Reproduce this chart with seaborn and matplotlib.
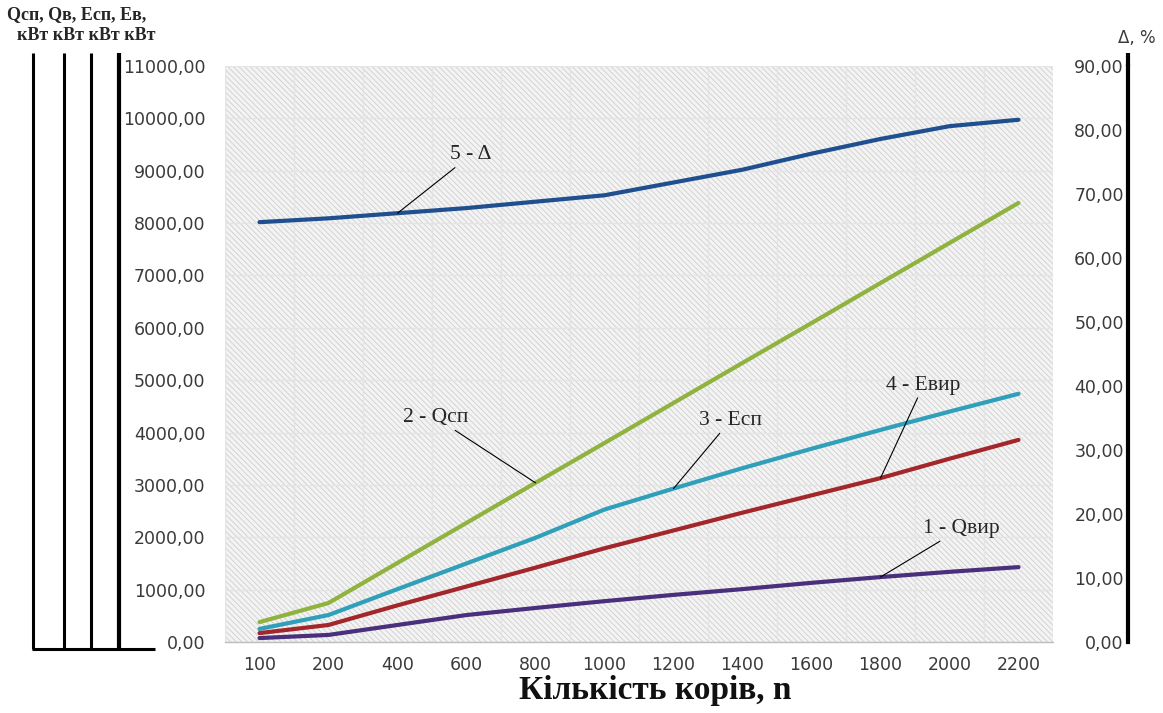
"""Energy balance of a dairy farm vs herd size (two y axes, Excel-like look)."""

import matplotlib

matplotlib.use("Agg")
import matplotlib.pyplot as plt
import numpy as np
import pandas as pd
import seaborn as sns
from matplotlib.lines import Line2D
from matplotlib.patches import Rectangle
from matplotlib.ticker import FixedLocator, FuncFormatter

# --- data ------------------------------------------------------------------
cows = ["100", "200", "400", "600", "800", "1000", "1200", "1400", "1600", "1800", "2000", "2200"]
q_vir = [75, 135, 325, 515, 650, 780, 900, 1010, 1130, 1240, 1340, 1430]          # 1 - Qвир
q_sp = [380, 745, 1510, 2275, 3040, 3800, 4565, 5330, 6090, 6855, 7620, 8385]     # 2 - Qсп
e_sp = [250, 515, 1010, 1500, 1990, 2530, 2930, 3320, 3690, 4050, 4400, 4740]     # 3 - Есп
e_vir = [170, 325, 700, 1060, 1420, 1790, 2130, 2470, 2800, 3130, 3500, 3860]     # 4 - Евир
delta = [65.6, 66.2, 67.0, 67.8, 68.8, 69.8, 71.8, 73.8, 76.3, 78.6, 80.6, 81.6]  # 5 - Δ, %

series_names = ["1 - Qвир", "2 - Qсп", "3 - Есп", "4 - Евир"]
colors = {
    "1 - Qвир": "#4a2f7c",
    "2 - Qсп": "#8fb33e",
    "3 - Есп": "#2f9fba",
    "4 - Евир": "#a3262a",
}
delta_color = "#1f4f8f"

pos = np.arange(len(cows))
df = pd.concat(
    [pd.DataFrame({"pos": pos, "value": vals, "series": name})
     for name, vals in zip(series_names, [q_vir, q_sp, e_sp, e_vir])],
    ignore_index=True,
)
df_delta = pd.DataFrame({"pos": pos, "delta": delta})

# --- style ------------------------------------------------------------------
sns.set_theme(style="white")
plt.rcParams["font.family"] = ["DejaVu Sans"]
plt.rcParams["hatch.linewidth"] = 0.5
plt.rcParams["hatch.color"] = "#c8c8c8"
SERIF = ["Liberation Serif", "DejaVu Serif"]
TICK_COLOR = "#3a3a3a"

W, H = 1163, 713
fig = plt.figure(figsize=(W / 100, H / 100), dpi=100)
left, right, bottom, top = 225, 1053, 642, 66
ax = fig.add_axes([left / W, 1 - bottom / H, (right - left) / W, (bottom - top) / H])
ax.set_facecolor("#f3f3f3")
ax.add_patch(Rectangle((0, 0), 1, 1, transform=ax.transAxes, facecolor="none",
                       edgecolor="#c8c8c8", hatch="\\\\\\\\\\\\", lw=0, zorder=0))

sns.lineplot(data=df, x="pos", y="value", hue="series", palette=colors,
             linewidth=3, legend=False, ax=ax, zorder=3)

ax.set_xlim(-0.5, len(cows) - 0.5)
ax.set_ylim(0, 11000)
ax.xaxis.set_major_locator(FixedLocator(pos))
ax.set_xticklabels(cows)
ax.xaxis.set_minor_locator(FixedLocator(np.arange(len(cows) + 1) - 0.5))
ax.set_yticks(np.arange(0, 11001, 1000))
fmt = FuncFormatter(lambda v, _: f"{v:.2f}".replace(".", ","))
ax.yaxis.set_major_formatter(fmt)
ax.tick_params(axis="x", which="major", length=0, pad=10, labelsize=12.5, labelcolor=TICK_COLOR)
ax.tick_params(axis="x", which="minor", length=6, width=1, color="#bdbdbd", direction="out")
ax.tick_params(axis="y", length=0, pad=14, labelsize=12.5, labelcolor=TICK_COLOR)
ax.grid(axis="x", which="minor", color="#e4e4e4", lw=1, zorder=1)
ax.grid(axis="y", which="major", color="#e4e4e4", lw=1, zorder=1)
ax.set_axisbelow(True)
for side in ["left", "top", "right"]:
    ax.spines[side].set_visible(False)
ax.spines["bottom"].set_color("#bdbdbd")
ax.spines["bottom"].set_linewidth(1)
ax.set_ylabel("")
ax.set_xlabel("Кількість корів, n", fontsize=24, fontweight="bold", family=SERIF,
              color="#111111", va="center")
ax.xaxis.set_label_coords((655 - left) / (right - left), -(691 - bottom) / (bottom - top))

# right axis: Δ, %
ax2 = ax.twinx()
sns.lineplot(data=df_delta, x="pos", y="delta", color=delta_color, linewidth=3, ax=ax2, zorder=3)
ax2.set_ylim(0, 90)
ax2.set_yticks(np.arange(0, 91, 10))
ax2.yaxis.set_major_formatter(fmt)
ax2.set_ylabel("")
ax2.set_xlabel("")
for side in ["left", "top", "bottom"]:
    ax2.spines[side].set_visible(False)
ax2.spines["right"].set_position(("outward", (1128 - right) * 0.72))
ax2.spines["right"].set_linewidth(3)
ax2.spines["right"].set_color("black")
ax2.tick_params(axis="y", length=0, pad=-3, labelsize=12.5, labelcolor=TICK_COLOR)
for t in ax2.get_yticklabels():
    t.set_horizontalalignment("right")

# leader-line labels
arrow = dict(arrowstyle="-", color="black", lw=0.8, shrinkA=0, shrinkB=0)
lab = dict(textcoords="offset points", ha="center", va="center", fontsize=15.5,
           family=SERIF, arrowprops=arrow, zorder=5)
ax2.annotate("5 - Δ", xy=(pos[2], delta[2]), xytext=(53, 42), **lab)
ax.annotate("2 - Qсп", xy=(pos[4], q_sp[4]), xytext=(-72, 47), **lab)
ax.annotate("3 - Есп", xy=(pos[6], e_sp[6]), xytext=(41, 49), **lab)
ax.annotate("4 - Евир", xy=(pos[9], e_vir[9]), xytext=(31, 67), **lab)
ax.annotate("1 - Qвир", xy=(pos[9], q_vir[9]), xytext=(58, 35), **lab)

# stacked left axis rules (one per quantity) and the top captions
def fig_line(x0, y0, x1, y1, lw):
    fig.add_artist(Line2D([x0 / W, x1 / W], [1 - y0 / H, 1 - y1 / H],
                          transform=fig.transFigure, color="black", lw=lw,
                          solid_capstyle="butt"))

for x, lw in zip([33, 64, 91, 119], [2.2, 2.2, 2.2, 3.0]):
    fig_line(x, 53, x, 649, lw)
fig_line(32, 649, 155, 649, 2.2)
fig_line(1128, 53, 1128, 67, 3.0)

fig.text(77 / W, 1 - 15 / H, "Qсп, Qв, Есп, Ев,", ha="center", va="center",
         fontsize=13, fontweight="bold", family=SERIF)
fig.text(86 / W, 1 - 36 / H, "кВт кВт кВт кВт", ha="center", va="center",
         fontsize=13, fontweight="bold", family=SERIF)
fig.text(1137 / W, 1 - 38 / H, "Δ, %", ha="center", va="center", fontsize=12, color=TICK_COLOR)

fig.savefig("out.png", dpi=100)
